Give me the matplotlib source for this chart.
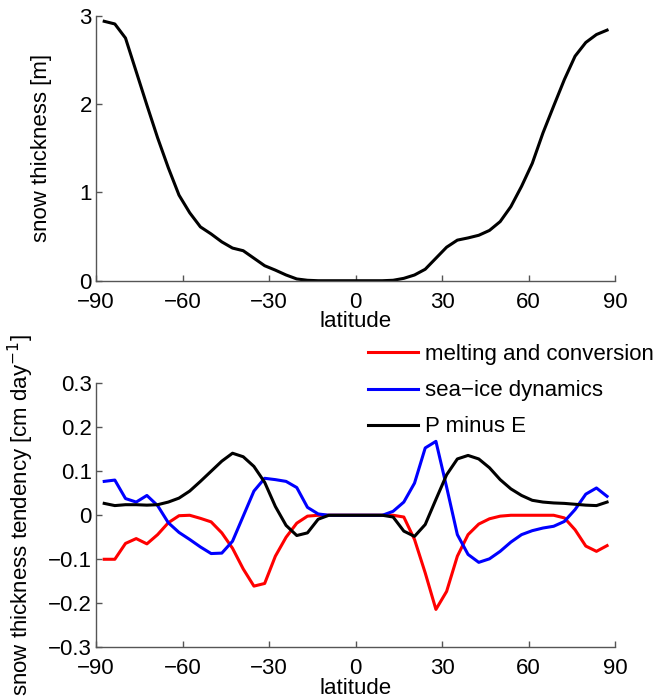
import numpy as np
import matplotlib
matplotlib.use('Agg')
import matplotlib.pyplot as plt

plt.rcParams['font.family'] = ['Liberation Sans', 'DejaVu Sans']
plt.rcParams['axes.unicode_minus'] = True

# gaussian latitudes (48 points)
lat = [-87.16, -83.48, -79.78, -76.07, -72.36, -68.65, -64.94, -61.23,
       -57.52, -53.81, -50.10, -46.39, -42.68, -38.97, -35.26, -31.54,
       -27.83, -24.12, -20.41, -16.70, -12.99, -9.28, -5.57, -1.86,
       1.86, 5.57, 9.28, 12.99, 16.70, 20.41, 24.12, 27.83,
       31.54, 35.26, 38.97, 42.68, 46.39, 50.10, 53.81, 57.52,
       61.23, 64.94, 68.65, 72.36, 76.07, 79.78, 83.48, 87.16]

# snow thickness [m]
snow = [2.94, 2.91, 2.75, 2.37, 1.99, 1.62, 1.28, 0.97,
        0.77, 0.61, 0.53, 0.44, 0.37, 0.34, 0.255, 0.17,
        0.12, 0.065, 0.02, 0.005, 0.0, 0.0, 0.0, 0.0,
        0.0, 0.0, 0.0, 0.005, 0.027, 0.065, 0.13, 0.255,
        0.38, 0.46, 0.485, 0.515, 0.57, 0.67, 0.84, 1.07,
        1.33, 1.675, 1.98, 2.28, 2.545, 2.70, 2.79, 2.84]

# tendencies [cm/day]
melt = [-0.100, -0.100, -0.064, -0.053, -0.065, -0.044, -0.017, -0.001,
        0.0, -0.007, -0.015, -0.040, -0.075, -0.122, -0.161, -0.155,
        -0.093, -0.050, -0.018, -0.002, 0.0, 0.0, 0.0, 0.0,
        0.0, 0.0, 0.0, 0.0, -0.004, -0.055, -0.131, -0.214,
        -0.173, -0.093, -0.044, -0.020, -0.008, -0.002, 0.0, 0.0,
        0.0, 0.0, 0.0, -0.006, -0.033, -0.070, -0.082, -0.069]

seaice = [0.077, 0.080, 0.038, 0.030, 0.045, 0.022, -0.017, -0.039,
          -0.055, -0.072, -0.087, -0.086, -0.059, -0.002, 0.055, 0.084,
          0.081, 0.077, 0.063, 0.018, 0.003, 0.0, 0.0, 0.0,
          0.0, 0.0, 0.0, 0.009, 0.030, 0.073, 0.153, 0.168,
          0.064, -0.044, -0.089, -0.107, -0.099, -0.082, -0.061, -0.044,
          -0.035, -0.029, -0.025, -0.014, 0.013, 0.048, 0.062, 0.043]

pme = [0.027, 0.022, 0.024, 0.024, 0.023, 0.024, 0.030, 0.039,
       0.055, 0.077, 0.100, 0.123, 0.141, 0.133, 0.111, 0.075,
       0.020, -0.023, -0.046, -0.040, -0.009, 0.0, 0.0, 0.0,
       0.0, 0.0, 0.0, -0.004, -0.036, -0.048, -0.021, 0.036,
       0.092, 0.128, 0.136, 0.128, 0.108, 0.081, 0.060, 0.045,
       0.034, 0.030, 0.028, 0.027, 0.025, 0.023, 0.022, 0.030]

xticks = [-90, -60, -30, 0, 30, 60, 90]

fig = plt.figure(figsize=(6.64, 6.99), dpi=100)
ax1 = fig.add_axes([0.1446, 0.5984, 0.782, 0.3787])
ax2 = fig.add_axes([0.1446, 0.0740, 0.782, 0.3777])

fs = 16
spine_col = '#555555'

def style(ax):
    for s in ['top', 'right']:
        ax.spines[s].set_visible(False)
    for s in ['left', 'bottom']:
        ax.spines[s].set_color(spine_col)
        ax.spines[s].set_linewidth(1.0)
    ax.tick_params(direction='in', length=4, width=1, color=spine_col,
                   labelsize=fs)
    ax.tick_params(axis='x', pad=8)
    ax.tick_params(axis='y', pad=3)
    ax.set_xlim(-90, 90)
    ax.set_xticks(xticks)
    ax.set_xlabel('latitude', fontsize=fs, labelpad=-1)

ax1.plot(lat, snow, color='black', lw=2.2)
ax1.set_ylim(0, 3)
ax1.set_yticks([0, 1, 2, 3])
style(ax1)
ax1.set_ylabel('snow thickness [m]', fontsize=fs)
ax1.yaxis.set_label_coords(-0.084, 0.5)

ax2.plot(lat, melt, color='red', lw=2.2, label='melting and conversion')
ax2.plot(lat, seaice, color='blue', lw=2.2, label='sea\u2212ice dynamics')
ax2.plot(lat, pme, color='black', lw=2.2, label='P minus E')
ax2.set_ylim(-0.3, 0.3)
ax2.set_yticks([-0.3, -0.2, -0.1, 0, 0.1, 0.2, 0.3])
ax2.set_yticklabels(['\u22120.3', '\u22120.2', '\u22120.1', '0', '0.1', '0.2', '0.3'])
style(ax2)
ax2.set_ylabel('snow thickness tendency [cm day$^{-1}$]', fontsize=fs)
ax2.yaxis.set_label_coords(-0.115, 0.5)

ax2.legend(loc='upper left', bbox_to_anchor=(0.524, 1.148), frameon=False,
           fontsize=fs, handlelength=2.25, handletextpad=0.3,
           labelspacing=0.68, borderpad=0, borderaxespad=0)

fig.savefig('out.png', dpi=100)
